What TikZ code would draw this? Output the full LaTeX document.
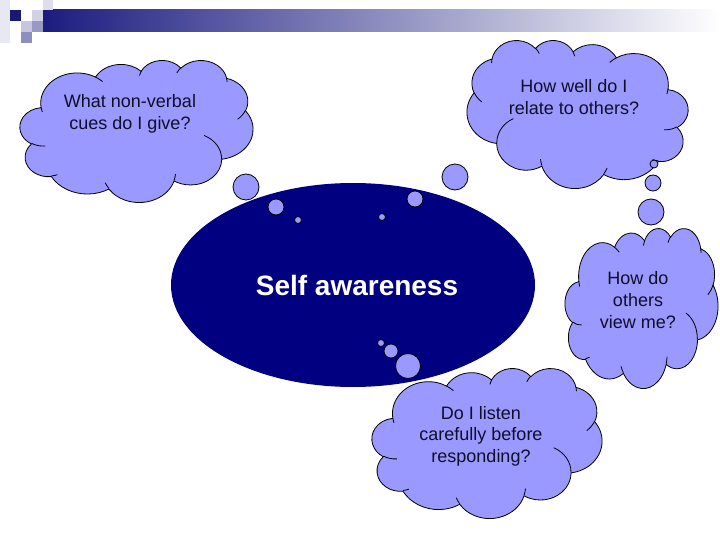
\documentclass[tikz,border=0pt]{standalone}
\usepackage{fontspec}
\setmainfont{Liberation Sans}
\usetikzlibrary{shapes.geometric}
\definecolor{lav}{RGB}{153,153,255}
\definecolor{navy}{RGB}{0,0,128}
\definecolor{txt}{RGB}{15,15,40}
\definecolor{barl}{RGB}{28,28,128}
\tikzset{
  outl/.style={draw=black, line width=0.8pt},
  cloudshape/.pic={
    \path[fill=lav, outl] (39,143.7)
      arc[start angle=-187.74, end angle=-59.64, x radius=67.53, y radius=91.90]
      arc[start angle=-152.02, end angle=-45.43, x radius=53.33, y radius=72.67]
      arc[start angle=-153.49, end angle=-37.32, x radius=43.65, y radius=59.45]
      arc[start angle=-139.71, end angle=-10.21, x radius=48.57, y radius=65.95]
      arc[start angle=-74.77, end angle=23.21, x radius=53.33, y radius=72.73]
      arc[start angle=-37.53, end angle=81.86, x radius=67.75, y radius=92.20]
      arc[start angle=0.46, end angle=121.98, x radius=57.85, y radius=78.67]
      arc[start angle=16.84, end angle=146.24, x radius=67.52, y radius=92.15]
      arc[start angle=58.98, end angle=150.20, x radius=77.20, y radius=105.43]
      arc[start angle=-276.69, end angle=-136.91, x radius=43.60, y radius=59.18]
      arc[start angle=-239.64, end angle=-95.89, x radius=43.45, y radius=59.45]
      -- cycle;
    \path[outl]
      (46.93,261.77) arc[start angle=85.55, end angle=120.36, x radius=43.45, y radius=59.45]
      (69.28,348.99) arc[start angle=68.23, end angle=83.31, x radius=43.60, y radius=59.18]
      (164.78,390.90) arc[start angle=146.24, end angle=158.47, x radius=67.52, y radius=92.15]
      (288.27,347.51) arc[start angle=4.74, end angle=16.84, x radius=67.52, y radius=92.15]
      (341.29,229.54) arc[start angle=-64.03, end angle=0.46, x radius=57.85, y radius=78.67]
      (417.98,153.54) arc[start angle=23.21, end angle=49.65, x radius=53.33, y radius=72.73]
      (383.24,54.26) arc[start angle=-10.21, end angle=0.82, x radius=48.57, y radius=65.95]
      (290.78,39.52) arc[start angle=-156.29, end angle=-139.71, x radius=48.57, y radius=65.95]
      (221.41,47.20) arc[start angle=-167.73, end angle=-153.49, x radius=43.65, y radius=59.45]
      (140.00,51.92) arc[start angle=-59.64, end angle=-45.74, x radius=67.53, y radius=91.90]
      (41.27,157.89) arc[start angle=163.19, end angle=172.26, x radius=67.53, y radius=91.90];
  },
  bubble/.style={circle, fill=lav, outl, inner sep=0pt},
  qtext/.style={text=txt, align=center, font=\fontsize{18}{21.6}\selectfont},
}
\begin{document}
\begin{tikzpicture}[x=1pt, y=-1pt]
\useasboundingbox (0,0) rectangle (720,540);
\fill[white] (0,0) rectangle (720,540);
% header decoration
\fill[barl!10] (0,0) rectangle (10,43);
\shade[left color=barl, right color=white] (43,10) rectangle (720,32);
\fill[barl!90!black] (10,10) rectangle (21,21);
\fill[barl!20] (32,10) rectangle (43,21);
\fill[barl!15] (43,0) rectangle (53,10);
\fill[barl!25] (21,21) rectangle (32,32);
\fill[barl!45] (32,21) rectangle (43,32);
\fill[barl!50] (21,32) rectangle (32,43);
% central ellipse
\node[ellipse, fill=navy, minimum width=364, minimum height=204, inner sep=0pt] (self) at (353,285) {};
\node[text=white, font=\bfseries\fontsize{28}{33}\selectfont] (selft) at (357,285) {Self awareness};
% clouds
\pic[xscale=233/432, yscale=142/432] at (20,60) {cloudshape};
\pic[xscale=-221/432, yscale=148/432] at (688,40) {cloudshape};
\pic[xscale=153/432, yscale=160/432] at (565,228) {cloudshape};
\pic[xscale=230/432, yscale=150/432] at (372,368) {cloudshape};
\node[qtext] (q1) at (130,114) {What non-verbal\\cues do I give?};
\node[qtext] (q2) at (574,97) {How well do I\\relate to others?};
\node[qtext] (q3) at (638,300) {How do\\others\\view me?};
\node[qtext] (q4) at (481,436) {Do I listen\\carefully before\\responding?};
% bubbles
\node[bubble, minimum size=26] (b11) at (246,187) {};
\node[bubble, minimum size=16] (b12) at (276,207) {};
\node[bubble, minimum size=7] (b13) at (298,220) {};
\node[bubble, minimum size=26] (b21) at (455,177) {};
\node[bubble, minimum size=16] (b22) at (415,199) {};
\node[bubble, minimum size=7] (b23) at (382,217) {};
\node[bubble, minimum size=26] (b31) at (651,212) {};
\node[bubble, minimum size=16] (b32) at (653,183) {};
\node[bubble, minimum size=8] (b33) at (654,164) {};
\node[bubble, minimum size=25] (b41) at (408,366) {};
\node[bubble, minimum size=14] (b42) at (391,351) {};
\node[bubble, minimum size=7] (b43) at (381,343) {};
\end{tikzpicture}
\end{document}
